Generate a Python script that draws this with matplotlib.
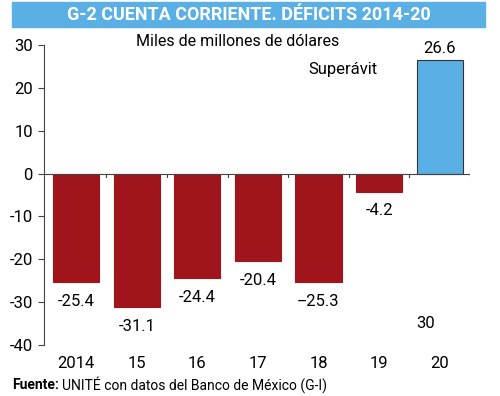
import matplotlib.pyplot as plt
from matplotlib.patches import Rectangle

plt.rcParams['font.family'] = ['Roboto', 'DejaVu Sans']

years = ["2014", "15", "16", "17", "18", "19", "20"]
values = [-25.4, -31.1, -24.4, -20.4, -25.3, -4.2, 26.6]
labels = ["-25.4", "-31.1", "-24.4", "-20.4", "--25.3", "-4.2", "26.6"]
yticks = [30, 20, 10, 0, -10, -20, -30, -40]

red = "#a0141b"
blue = "#5aafe5"

fig = plt.figure(figsize=(5, 3.96), dpi=100)
ax = fig.add_axes([0.088, 0.1288, 0.852, 0.7576])

x = list(range(len(years)))
colors = [blue if v > 0 else red for v in values]
edges = ["#333333" if v > 0 else red for v in values]
ax.bar(x, values, width=0.76, color=colors, edgecolor=edges, linewidth=0.8, zorder=2)

for i, v in enumerate(values):
    if v > 0:
        ax.text(i, v + 0.8, labels[i], ha="center", va="bottom", fontsize=12)
    else:
        ax.text(i, v - 4.5, labels[i], ha="center", va="center", fontsize=12)

# zero line with category separators
ax.axhline(0, color="#444444", lw=0.8, zorder=3)
for b in [i + 0.5 for i in x]:
    ax.plot([b, b], [0, -0.9], color="#444444", lw=0.8, zorder=3)

ax.set_xlim(-0.53, 6.5)
ax.set_ylim(-40, 30)
ax.set_yticks(yticks)
ax.set_yticklabels([str(t) for t in yticks], fontsize=12)
ax.set_xticks(x)
ax.set_xticklabels(years, fontsize=12)
ax.tick_params(axis="x", length=0, pad=8)
ax.tick_params(axis="y", length=4, width=0.8, color="#444444", pad=4)
for s in ["top", "right", "bottom"]:
    ax.spines[s].set_visible(False)
ax.spines["left"].set_color("#444444")
ax.spines["left"].set_linewidth(0.8)

ax.text(0.455, 0.985, "Miles de millones de dólares", transform=ax.transAxes,
        ha="center", va="bottom", fontsize=11.5)
ax.text(4.41, 24.2, "Superávit", ha="center", va="center", fontsize=12)
ax.text(5.77, -34.9, "30", ha="center", va="center", fontsize=12)

# title band
fig.patches.append(Rectangle((0.024, 0.932), 0.946, 0.063, transform=fig.transFigure,
                             color=blue, zorder=0))
fig.text(0.497, 0.963, "G-2 CUENTA CORRIENTE. DÉFICITS 2014-20", ha="center", va="center",
         color="white", fontsize=13, fontweight="bold")

# source line: bold label followed by regular text
src = fig.text(0.024, 0.028, "Fuente:", fontsize=10, va="center", ha="left", fontweight="bold")
fig.canvas.draw()
bb = src.get_window_extent()
fig.text(bb.x1 / fig.bbox.width + 0.006, 0.028, "UNITÉ con datos del Banco de México (G-I)",
         fontsize=10, va="center", ha="left")

fig.savefig("out.png", dpi=100)
